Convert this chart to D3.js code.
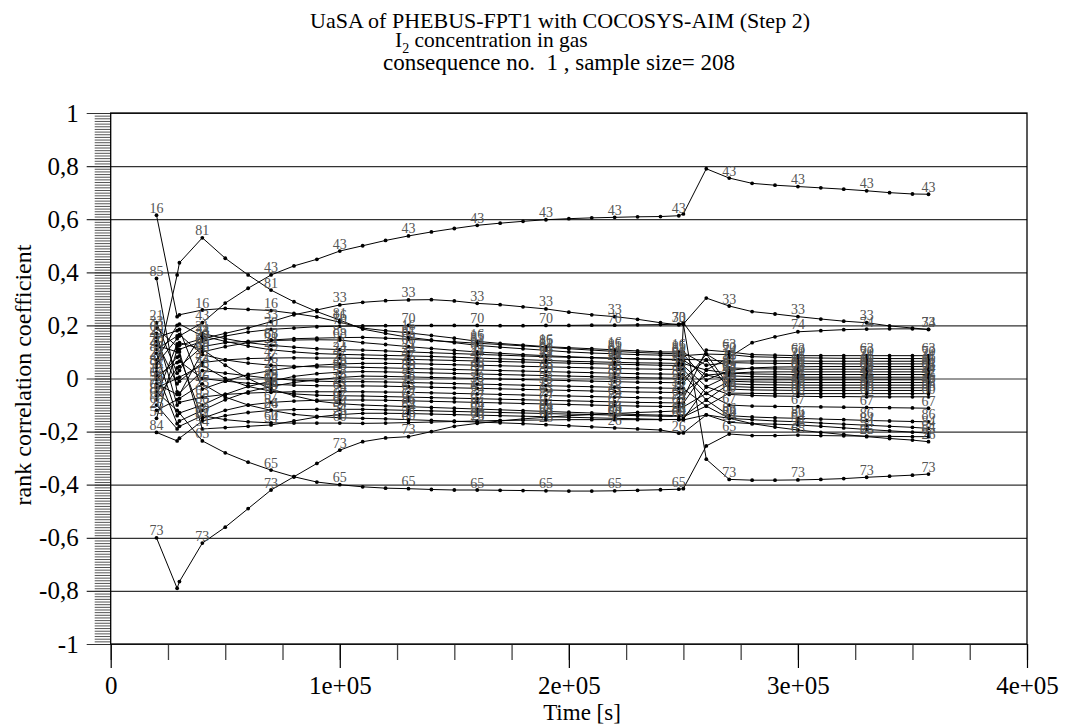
<!DOCTYPE html>
<html><head><meta charset="utf-8">
<script src="https://cdn.jsdelivr.net/npm/d3@7"></script>
<style>body{margin:0;background:#fff} text{font-family:"Liberation Serif","Times New Roman",serif}</style>
</head><body>
<svg id="chart" width="1067" height="726"></svg>
<script>
// time points [s]
const times = [20000, 29000, 30000, 40000, 50000, 60000, 70000, 80000, 90000,
  100000, 110000, 120000, 130000, 140000, 150000, 160000, 170000, 180000, 190000, 200000, 210000, 220000, 230000, 240000,
  248000, 250000, 260000,
  270000, 280000, 290000, 300000, 310000, 320000, 330000, 340000, 350000, 357000];
// indices of time points that carry a parameter label
const labelIdx = [0, 3, 6, 9, 12, 15, 18, 21, 24, 27, 30, 33, 36];

const xTicks = [0, 100000, 200000, 300000, 400000];
const xTickLabels = ["0", "1e+05", "2e+05", "3e+05", "4e+05"];
const yTicks = [1, 0.8, 0.6, 0.4, 0.2, 0, -0.2, -0.4, -0.6, -0.8, -1];
const yTickLabels = ["1", "0,8", "0,6", "0,4", "0,2", "0", "-0,2", "-0,4", "-0,6", "-0,8", "-1"];

// rank correlation coefficients per parameter
const s43 = [0.055, 0.15, 0.16, 0.21, 0.284, 0.34, 0.39, 0.424, 0.449, 0.48, 0.50, 0.52, 0.537, 0.552, 0.565, 0.577, 0.585, 0.592, 0.598, 0.602, 0.605, 0.607, 0.609, 0.61, 0.613, 0.62, 0.79, 0.755, 0.735, 0.728, 0.723, 0.718, 0.713, 0.707, 0.70, 0.695, 0.694];
const s73 = [-0.6, -0.79, -0.765, -0.62, -0.56, -0.49, -0.42, -0.37, -0.32, -0.27, -0.238, -0.224, -0.219, -0.2, -0.18, -0.169, -0.16, -0.152, -0.146, -0.14, -0.136, -0.132, -0.128, -0.125, -0.122, 0.205, -0.304, -0.38, -0.383, -0.383, -0.382, -0.38, -0.377, -0.372, -0.368, -0.364, -0.36];
const s65 = [-0.05, -0.12, -0.13, -0.235, -0.28, -0.315, -0.345, -0.37, -0.39, -0.40, -0.408, -0.413, -0.415, -0.418, -0.42, -0.42, -0.421, -0.422, -0.423, -0.424, -0.424, -0.423, -0.421, -0.419, -0.417, -0.415, -0.254, -0.209, -0.215, -0.215, -0.213, -0.215, -0.216, -0.217, -0.218, -0.219, -0.219];
const s33 = [0.19, 0.12, 0.125, 0.15, 0.17, 0.19, 0.214, 0.24, 0.258, 0.277, 0.287, 0.293, 0.296, 0.297, 0.292, 0.283, 0.278, 0.27, 0.262, 0.25, 0.24, 0.233, 0.223, 0.21, 0.202, 0.205, 0.303, 0.273, 0.252, 0.243, 0.233, 0.224, 0.216, 0.21, 0.198, 0.19, 0.185];
const s70 = [0.125, 0.1, 0.11, 0.14, 0.16, 0.175, 0.185, 0.19, 0.195, 0.197, 0.198, 0.199, 0.2, 0.2, 0.2, 0.2, 0.199, 0.199, 0.2, 0.2, 0.201, 0.201, 0.202, 0.203, 0.205, 0.21, 0.092, 0.09, 0.082, 0.08, 0.078, 0.077, 0.076, 0.076, 0.075, 0.075, 0.075];
const s16 = [0.615, 0.233, 0.24, 0.258, 0.264, 0.26, 0.256, 0.245, 0.232, 0.212, 0.19, 0.18, 0.172, 0.162, 0.152, 0.14, 0.132, 0.126, 0.12, 0.116, 0.112, 0.108, 0.104, 0.1, 0.1, 0.098, 0.05, 0.06, 0.058, 0.057, 0.056, 0.056, 0.055, 0.055, 0.055, 0.055, 0.055];
const s81 = [0.04, 0.39, 0.436, 0.53, 0.453, 0.39, 0.333, 0.289, 0.252, 0.22, 0.186, 0.17, 0.155, 0.145, 0.135, 0.125, 0.118, 0.112, 0.106, 0.1, 0.096, 0.093, 0.09, 0.088, 0.087, 0.086, 0.092, 0.04, 0.037, 0.036, 0.035, 0.035, 0.035, 0.035, 0.035, 0.035, 0.035];
const s85 = [0.377, -0.05, -0.06, 0.1, 0.12, 0.135, 0.145, 0.15, 0.152, 0.154, 0.155, 0.152, 0.148, 0.143, 0.138, 0.133, 0.128, 0.123, 0.118, 0.112, 0.107, 0.102, 0.098, 0.095, 0.093, 0.091, -0.006, 0.03, 0.04, 0.043, 0.044, 0.045, 0.045, 0.045, 0.045, 0.045, 0.045];
const s68 = [-0.08, 0.04, 0.045, 0.12, 0.135, 0.14, 0.143, 0.145, 0.146, 0.145, 0.135, 0.128, 0.12, 0.113, 0.106, 0.1, 0.095, 0.09, 0.086, 0.082, 0.079, 0.076, 0.074, 0.072, 0.07, 0.069, 0.013, 0.02, 0.024, 0.025, 0.025, 0.025, 0.025, 0.025, 0.025, 0.025, 0.025];
const s21 = [0.21, 0.02, 0.03, 0.17, 0.15, 0.135, 0.125, 0.118, 0.112, 0.109, 0.107, 0.104, 0.1, 0.097, 0.094, 0.091, 0.088, 0.085, 0.082, 0.08, 0.078, 0.076, 0.074, 0.073, 0.072, 0.072, 0.07, 0.065, 0.066, 0.066, 0.066, 0.065, 0.065, 0.065, 0.065, 0.065, 0.065];
const s24 = [0.07, 0.2, 0.205, 0.16, 0.14, 0.122, 0.108, 0.1, 0.094, 0.091, 0.089, 0.087, 0.085, 0.083, 0.08, 0.077, 0.074, 0.071, 0.068, 0.065, 0.063, 0.061, 0.059, 0.058, 0.057, 0.056, 0.032, 0.02, 0.017, 0.016, 0.015, 0.015, 0.015, 0.015, 0.015, 0.015, 0.015];
const s47 = [0.14, -0.02, -0.01, 0.06, 0.07, 0.075, 0.077, 0.078, 0.077, 0.077, 0.076, 0.074, 0.072, 0.07, 0.068, 0.066, 0.064, 0.062, 0.06, 0.058, 0.056, 0.054, 0.052, 0.05, 0.049, 0.048, -0.031, 0.01, 0.007, 0.006, 0.005, 0.005, 0.005, 0.005, 0.005, 0.005, 0.005];
const s25 = [0.155, 0.18, 0.185, -0.04, -0.01, 0.015, 0.03, 0.042, 0.05, 0.055, 0.057, 0.057, 0.056, 0.054, 0.052, 0.05, 0.048, 0.046, 0.044, 0.042, 0.04, 0.038, 0.036, 0.035, 0.034, 0.033, -0.056, -0.01, -0.013, -0.014, -0.015, -0.015, -0.015, -0.015, -0.015, -0.015, -0.015];
const s46 = [0.11, 0.16, 0.165, 0.09, 0.07, 0.058, 0.05, 0.046, 0.044, 0.043, 0.042, 0.04, 0.038, 0.036, 0.034, 0.032, 0.03, 0.028, 0.026, 0.024, 0.022, 0.02, 0.018, 0.017, 0.016, 0.015, -0.081, -0.02, -0.023, -0.024, -0.025, -0.025, -0.025, -0.025, -0.025, -0.025, -0.025];
const s88 = [0.095, -0.14, -0.13, -0.1, -0.06, -0.03, -0.01, 0.008, 0.018, 0.024, 0.026, 0.025, 0.023, 0.021, 0.019, 0.017, 0.015, 0.013, 0.011, 0.009, 0.007, 0.005, 0.003, 0.002, 0.001, 0.0, 0.07, -0.04, -0.043, -0.044, -0.045, -0.045, -0.045, -0.045, -0.045, -0.045, -0.045];
const s57 = [0.025, -0.17, -0.16, -0.12, -0.08, -0.05, -0.03, -0.015, -0.005, 0.004, 0.009, 0.008, 0.006, 0.004, 0.002, 0.0, -0.002, -0.004, -0.006, -0.008, -0.01, -0.012, -0.014, -0.015, -0.016, -0.017, 0.092, -0.03, -0.033, -0.034, -0.035, -0.035, -0.035, -0.035, -0.035, -0.035, -0.035];
const s38 = [-0.02, -0.06, -0.055, 0.03, 0.02, 0.01, 0.0, -0.006, -0.01, -0.012, -0.012, -0.013, -0.015, -0.017, -0.019, -0.021, -0.023, -0.025, -0.027, -0.029, -0.031, -0.033, -0.035, -0.036, -0.037, -0.038, -0.104, -0.055, -0.056, -0.057, -0.057, -0.057, -0.057, -0.057, -0.057, -0.057, -0.057];
const s12 = [0.01, 0.06, 0.065, 0.0, -0.01, -0.018, -0.022, -0.025, -0.027, -0.028, -0.028, -0.029, -0.031, -0.033, -0.035, -0.037, -0.039, -0.041, -0.043, -0.045, -0.047, -0.049, -0.051, -0.052, -0.053, -0.054, 0.013, -0.004, -0.005, -0.005, -0.005, -0.005, -0.005, -0.005, -0.005, -0.005, -0.005];
const s63 = [0.17, -0.1, -0.09, -0.07, -0.06, -0.055, -0.052, -0.05, -0.05, -0.05, -0.05, -0.051, -0.052, -0.054, -0.056, -0.058, -0.06, -0.062, -0.064, -0.066, -0.068, -0.07, -0.072, -0.073, -0.074, -0.075, 0.107, 0.1, 0.09, 0.088, 0.086, 0.086, 0.086, 0.086, 0.086, 0.086, 0.086];
const s74 = [-0.035, 0.0, 0.005, 0.05, 0.0, -0.03, -0.048, -0.058, -0.063, -0.065, -0.066, -0.068, -0.07, -0.072, -0.074, -0.076, -0.078, -0.08, -0.082, -0.084, -0.086, -0.088, -0.09, -0.091, -0.092, -0.093, 0.032, 0.08, 0.135, 0.157, 0.176, 0.18, 0.184, 0.186, 0.187, 0.187, 0.185];
const s67 = [-0.005, 0.08, 0.085, -0.15, -0.12, -0.1, -0.09, -0.085, -0.082, -0.081, -0.081, -0.082, -0.084, -0.086, -0.088, -0.09, -0.092, -0.094, -0.096, -0.098, -0.1, -0.102, -0.104, -0.105, -0.106, -0.107, -0.056, -0.1, -0.104, -0.105, -0.106, -0.107, -0.108, -0.109, -0.11, -0.111, -0.112];
const s86 = [-0.065, 0.13, 0.135, 0.11, 0.05, 0.0, -0.04, -0.065, -0.085, -0.095, -0.1, -0.103, -0.106, -0.109, -0.112, -0.115, -0.118, -0.121, -0.124, -0.127, -0.13, -0.133, -0.136, -0.138, -0.14, -0.142, -0.081, -0.14, -0.145, -0.148, -0.15, -0.153, -0.155, -0.158, -0.16, -0.162, -0.163];
const s84 = [-0.203, -0.235, -0.225, -0.16, -0.14, -0.128, -0.12, -0.117, -0.116, -0.116, -0.116, -0.118, -0.12, -0.122, -0.124, -0.126, -0.128, -0.13, -0.132, -0.134, -0.136, -0.138, -0.14, -0.142, -0.143, -0.144, -0.104, -0.15, -0.155, -0.16, -0.163, -0.168, -0.172, -0.176, -0.18, -0.184, -0.188];
const s54 = [-0.15, 0.11, 0.1, -0.19, -0.185, -0.18, -0.175, -0.16, -0.145, -0.136, -0.131, -0.131, -0.132, -0.134, -0.136, -0.138, -0.14, -0.142, -0.144, -0.146, -0.148, -0.15, -0.152, -0.154, -0.155, -0.156, -0.137, -0.165, -0.17, -0.172, -0.175, -0.18, -0.186, -0.192, -0.197, -0.202, -0.206];
const s26 = [-0.12, -0.08, -0.075, -0.02, -0.07, -0.1, -0.12, -0.135, -0.143, -0.148, -0.15, -0.152, -0.155, -0.158, -0.161, -0.164, -0.167, -0.17, -0.174, -0.178, -0.182, -0.186, -0.19, -0.194, -0.206, -0.205, -0.137, -0.15, -0.17, -0.183, -0.194, -0.203, -0.211, -0.219, -0.226, -0.232, -0.238];
const s60 = [-0.1, -0.19, -0.18, -0.14, -0.155, -0.163, -0.167, -0.168, -0.168, -0.168, -0.169, -0.168, -0.166, -0.164, -0.162, -0.16, -0.158, -0.157, -0.156, -0.155, -0.155, -0.155, -0.155, -0.155, -0.154, -0.153, -0.031, -0.06, -0.064, -0.066, -0.067, -0.068, -0.068, -0.069, -0.069, -0.069, -0.069];

const seriesIds = ["43", "73", "65", "33", "70", "16", "81", "85", "68", "21", "24", "47", "25", "46", "88", "57", "38", "12", "63", "74", "67", "86", "84", "54", "26", "60"];
const seriesValues = [s43, s73, s65, s33, s70, s16, s81, s85, s68, s21, s24, s47, s25, s46, s88, s57, s38, s12, s63, s74, s67, s86, s84, s54, s26, s60];

const W = 1067, H = 726;
const X0 = 110.7, X1 = 1027, Y0 = 644, Y1 = 113;
const svg = d3.select("#chart");
svg.append("rect").attr("width", W).attr("height", H).attr("fill", "#fff");

const x = d3.scaleLinear().domain([0, 400000]).range([X0, X1]);
const y = d3.scaleLinear().domain([-1, 1]).range([Y0, Y1]);

// y minor ticks
const yMinor = svg.append("g").attr("transform", `translate(${X0},0)`)
  .call(d3.axisLeft(y).ticks(200).tickSize(16).tickFormat(""));
yMinor.select(".domain").remove();
yMinor.selectAll("line").attr("stroke", "#555").attr("stroke-width", 1);

// grid lines + major ticks (extend left of axis)
const yGrid = svg.append("g").attr("transform", `translate(${X1},0)`)
  .call(d3.axisLeft(y).tickValues(yTicks).tickSize(X1 - X0 + 24).tickFormat(""));
yGrid.select(".domain").remove();
yGrid.selectAll("line").attr("stroke", "#333").attr("stroke-width", 1.2);

// y labels
const yLab = svg.append("g").attr("transform", `translate(${X0 - 24},0)`)
  .call(d3.axisLeft(y).tickValues(yTicks).tickSize(0).tickPadding(8).tickFormat((d, i) => yTickLabels[i]));
yLab.select(".domain").remove();
yLab.selectAll("text").attr("font-family", "Liberation Serif").attr("font-size", 25).attr("fill", "#000");

// x axis
const xMinor = svg.append("g").attr("transform", `translate(0,${Y0})`)
  .call(d3.axisBottom(x).tickValues(d3.range(0, 400001, 25000)).tickSize(16).tickFormat(""));
xMinor.select(".domain").remove();
xMinor.selectAll("line").attr("stroke", "#444").attr("stroke-width", 1.3);
const xMajor = svg.append("g").attr("transform", `translate(0,${Y0})`)
  .call(d3.axisBottom(x).tickValues(xTicks).tickSize(24).tickPadding(8).tickFormat((d, i) => xTickLabels[i]));
xMajor.select(".domain").remove();
xMajor.selectAll("line").attr("stroke", "#000").attr("stroke-width", 1.2);
xMajor.selectAll("text").attr("font-family", "Liberation Serif").attr("font-size", 25).attr("fill", "#000");

// frame
svg.append("rect").attr("x", X0).attr("y", Y1).attr("width", X1 - X0).attr("height", Y0 - Y1)
  .attr("fill", "none").attr("stroke", "#000").attr("stroke-width", 1.3);

// series
const line = d3.line().x((d, i) => x(times[i])).y(d => y(d));
const gS = svg.append("g");
seriesValues.forEach((vals, k) => {
  gS.append("path").attr("d", line(vals)).attr("fill", "none").attr("stroke", "#000").attr("stroke-width", 1);
});
seriesValues.forEach((vals, k) => {
  gS.selectAll(null).data(vals).enter().append("circle")
    .attr("cx", (d, i) => x(times[i])).attr("cy", d => y(d)).attr("r", 1.9).attr("fill", "#000");
});
seriesValues.forEach((vals, k) => {
  gS.selectAll(null).data(labelIdx).enter().append("text")
    .attr("x", i => x(times[i])).attr("y", i => y(vals[i]) - 2.5)
    .attr("text-anchor", "middle").attr("font-family", "DejaVu Sans").attr("font-size", 14)
    .attr("fill", "#555").text(seriesIds[k]);
});

// titles
svg.append("text").attr("x", 560).attr("y", 28).attr("text-anchor", "middle")
  .attr("font-size", 22).text("UaSA of PHEBUS-FPT1 with COCOSYS-AIM (Step 2)");
const t2 = svg.append("text").attr("x", 395).attr("y", 47).attr("font-size", 21.5);
t2.append("tspan").text("I");
t2.append("tspan").attr("font-size", 14).attr("dy", 6).text("2");
t2.append("tspan").attr("dy", -6).text(" concentration in gas");
svg.append("text").attr("x", 559).attr("y", 70).attr("text-anchor", "middle")
  .attr("font-size", 23).attr("xml:space", "preserve").text("consequence no.  1 , sample size= 208");

// axis titles
svg.append("text").attr("transform", "translate(31,375) rotate(-90)").attr("text-anchor", "middle")
  .attr("font-size", 24).text("rank correlation coefficient");
svg.append("text").attr("x", 582).attr("y", 720).attr("text-anchor", "middle")
  .attr("font-size", 23).text("Time [s]");
</script>
</body></html>
